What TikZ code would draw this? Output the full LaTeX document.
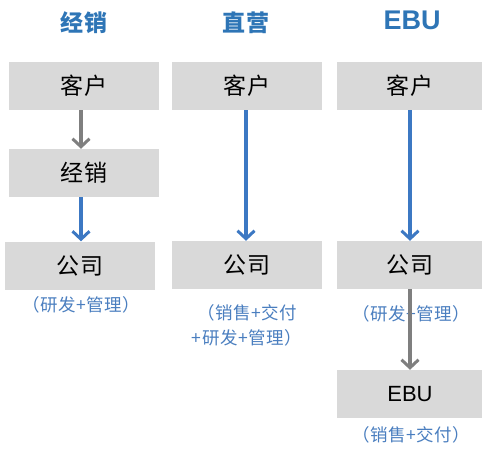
\documentclass[tikz,border=0pt]{standalone}
\usepackage{fontspec}
\setmainfont{Noto Sans CJK SC}
\newfontfamily\arialfont{Liberation Sans}
\newfontfamily\lblfont[LetterSpace=3]{Noto Sans CJK SC}
\usetikzlibrary{arrows.meta}
\definecolor{boxgray}{HTML}{D9D9D9}
\definecolor{titleblue}{HTML}{2E75B6}
\definecolor{arrblue}{HTML}{3C78C3}
\definecolor{arrgray}{HTML}{7F7F7F}
\definecolor{lblblue}{HTML}{4A7EBF}
\newcommand{\gapA}{\hspace{1.5pt}}
\newcommand{\gapT}{\hspace{2pt}}
\tikzset{
  x=1pt, y=-1pt,
  boxnode/.style={fill=boxgray, draw=none, minimum height=48pt, inner sep=0pt, font=\fontsize{23}{23}\selectfont},
  titlenode/.style={text=titleblue, font=\fontsize{23}{23}\selectfont\bfseries},
  lblnode/.style={text=lblblue, font=\fontsize{17.5}{25}\selectfont\lblfont, align=center, inner sep=0pt},
  bluearr/.style={draw=arrblue, line width=3.5pt, -{Straight Barb[length=8pt, width=17pt, line width=3pt]}},
  grayarr/.style={draw=arrgray, line width=3.5pt, -{Straight Barb[length=8pt, width=17pt, line width=3pt]}}
}
\begin{document}
\begin{tikzpicture}
\useasboundingbox (0,0) rectangle (482,448);
% titles
\node[titlenode] (t1) at (84,23) {经\gapT 销};
\node[titlenode] (t2) at (246,23) {直\gapT 营};
\node[titlenode, font=\fontsize{27}{27}\selectfont\bfseries\arialfont] (t3) at (412,20) {EBU};
% column 1
\node[boxnode, minimum width=150pt] (k1) at (84,86) {客\gapA 户};
\node[boxnode, minimum width=150pt] (j1) at (84,173) {经\gapA 销};
\node[boxnode, minimum width=150pt] (g1) at (80,265.5) {公\gapA 司};
\node[lblnode] (l1) at (81,305) {（研发+管理）};
% column 2
\node[boxnode, minimum width=150pt] (k2) at (247,86) {客\gapA 户};
\node[boxnode, minimum width=150pt] (g2) at (247,265) {公\gapA 司};
\node[lblnode] (l2) at (247,325) {（销售+交付\\+研发+管理）};
% column 3
\node[boxnode, minimum width=146pt] (k3) at (410,86) {客\gapA 户};
\node[boxnode, minimum width=146pt] (g3) at (410,265) {公\gapA 司};
\node[lblnode] (l3) at (411,314) {（研发+管理）};
\node[boxnode, minimum width=146pt, font=\fontsize{22}{22}\selectfont\arialfont] (e3) at (410,394) {EBU};
\node[lblnode] (l4) at (411,435) {（销售+交付）};
% arrows
\draw[grayarr] (k1.south -| 81,0) -- (j1.north -| 81,0);
\draw[bluearr] (j1.south -| 81,0) -- (g1.north -| 81,0);
\draw[bluearr] (k2.south -| 246,0) -- (g2.north -| 246,0);
\draw[bluearr] (k3.south -| 410,0) -- (g3.north -| 410,0);
\draw[grayarr] (g3.south -| 410,0) -- (e3.north -| 410,0);
\end{tikzpicture}
\end{document}
